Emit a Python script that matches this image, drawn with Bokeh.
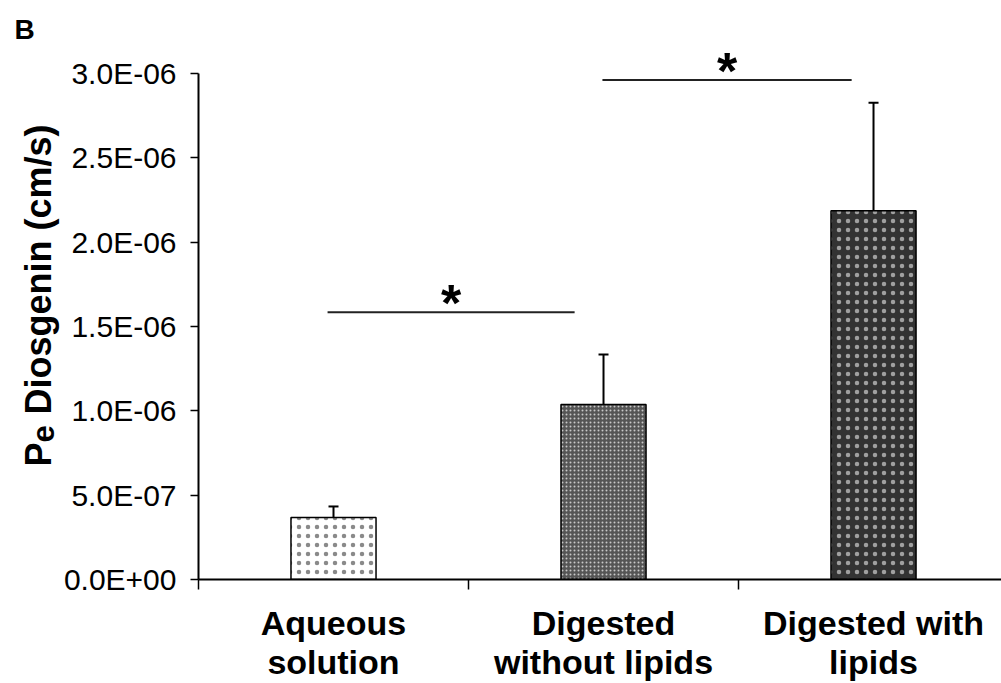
from bokeh.plotting import figure
from bokeh.layouts import row
from bokeh.models import Range1d, FixedTicker, Whisker, TeeHead, ColumnDataSource
from bokeh.embed import file_html
from bokeh.resources import INLINE
from bokeh.core.properties import value
import math

# ---- data ----
categories = ["Aqueous\nsolution", "Digested\nwithout lipids", "Digested with\nlipids"]
pe_values = [3.68e-7, 1.037e-6, 2.187e-6]
pe_errors = [0.065e-6, 0.297e-6, 0.640e-6]
y_ticks = [0.0, 5e-7, 1e-6, 1.5e-6, 2e-6, 2.5e-6, 3e-6]
y_tick_labels = ["0.0E+00", "5.0E-07", "1.0E-06", "1.5E-06", "2.0E-06", "2.5E-06", "3.0E-06"]
sig_x0 = [0.478, 1.496]
sig_x1 = [1.393, 2.419]
sig_y = [1.585e-6, 2.962e-6]
sig_text = ["*", "*"]
panel_letter = "B"
y_title_parts = ["P", "e", "Diosgenin (cm/s)"]

FONT = "Liberation Sans"
W, H = 1001, 683
STRIP = 60
LEFT, TOP, BOTTOM = 198, 44, 579
X_END = 2.974
Y_END = 3.172e-6
px_y = (BOTTOM - TOP) / Y_END
def dy(page_y):
    return (BOTTOM - page_y) / px_y

# ---- left strip: panel letter and y-axis title (same vertical scale as the chart) ----
lp = figure(width=STRIP, height=H, output_backend="svg", toolbar_location=None,
            x_range=Range1d(0, STRIP), y_range=Range1d(0, Y_END),
            x_axis_location=None, y_axis_location=None,
            min_border_left=0, min_border_right=0,
            min_border_top=TOP, min_border_bottom=H - BOTTOM)
lp.outline_line_color = None
lp.grid.visible = False
lp.title.text = panel_letter
lp.title.align = "left"
lp.title.offset = 14
lp.title.standoff = 0
lp.title.text_font = FONT
lp.title.text_font_style = "bold"
lp.title.text_font_size = "28px"
lp.title.text_color = "black"

ang = math.pi / 2
title_src = ColumnDataSource(dict(
    x=[38, 42, 38], y=[dy(466), dy(442), dy(414)], text=y_title_parts,
    size=["36px", "31px", "36px"],
))
lp.text(x="x", y="y", text="text", source=title_src, angle=ang,
        text_font=value(FONT), text_font_style="bold", text_font_size="size",
        text_align="left", text_baseline="alphabetic", text_color="black")

# ---- main chart ----
xs = [i + 0.5 for i in range(len(categories))]
src = ColumnDataSource(dict(
    x=xs, top=pe_values,
    upper=[v + e for v, e in zip(pe_values, pe_errors)],
    fill=["#ffffff", "#555555", "#333333"],
    hcol=["#8a8a8a", "#c8c8c8", "#a0a0a0"],
    hscale=[9, 4, 9],
    hweight=[2, 2, 1],
))

p = figure(width=W - STRIP, height=H, output_backend="svg", toolbar_location=None,
           x_range=Range1d(0, X_END), y_range=Range1d(0, Y_END),
           min_border_left=LEFT - STRIP, min_border_right=0, min_border_top=TOP,
           min_border_bottom=H - BOTTOM)
p.outline_line_color = None
p.grid.visible = False
p.background_fill_color = "white"
p.border_fill_color = "white"

p.vbar(x="x", top="top", width=0.315, bottom=0, source=src,
       fill_color="fill", line_color="black", line_width=1.5,
       hatch_pattern="dot", hatch_color="hcol", hatch_scale="hscale", hatch_weight="hweight")

w = Whisker(base="x", lower="top", upper="upper", source=src, dimension="height",
            line_color="black", line_width=2,
            upper_head=TeeHead(size=10, line_color="black", line_width=2), lower_head=None)
p.add_layout(w)

sig_mid = [(a + b) / 2 for a, b in zip(sig_x0, sig_x1)]
p.segment(x0=sig_x0, x1=sig_x1, y0=sig_y, y1=sig_y, line_color="#222222", line_width=2)
p.text(x=sig_mid, y=sig_y, text=sig_text, text_font=value(FONT), text_font_style="bold",
       text_font_size="52px", text_align="center", text_baseline="alphabetic",
       y_offset=-9, text_color="black")

# x axis
xa = p.xaxis[0]
xa.ticker = FixedTicker(ticks=xs, minor_ticks=list(range(len(categories) + 1)))
xa.major_label_overrides = {x: c for x, c in zip(xs, categories)}
xa.major_tick_line_color = None
xa.major_tick_out = 0
xa.major_tick_in = 0
xa.minor_tick_out = 10
xa.minor_tick_in = 0
xa.minor_tick_line_color = "black"
xa.minor_tick_line_width = 1.5
xa.axis_line_width = 2
xa.axis_line_color = "black"
xa.major_label_text_font = FONT
xa.major_label_text_font_style = "bold"
xa.major_label_text_font_size = "34px"
xa.major_label_text_line_height = 1.03
xa.major_label_text_color = "black"
xa.major_label_standoff = 14

# y axis
ya = p.yaxis[0]
ya.ticker = FixedTicker(ticks=y_ticks, minor_ticks=[])
ya.bounds = (0, 3e-6)
ya.major_label_overrides = {t: l for t, l in zip(y_ticks, y_tick_labels)}
ya.major_tick_out = 8
ya.major_tick_in = 0
ya.major_tick_line_width = 1.5
ya.axis_line_width = 2
ya.axis_line_color = "black"
ya.major_tick_line_color = "black"
ya.major_label_text_font = FONT
ya.major_label_text_font_size = "30px"
ya.major_label_text_color = "black"
ya.major_label_standoff = 14

layout = row(lp, p, spacing=0)
open("out.html", "w").write(file_html(layout, INLINE))
